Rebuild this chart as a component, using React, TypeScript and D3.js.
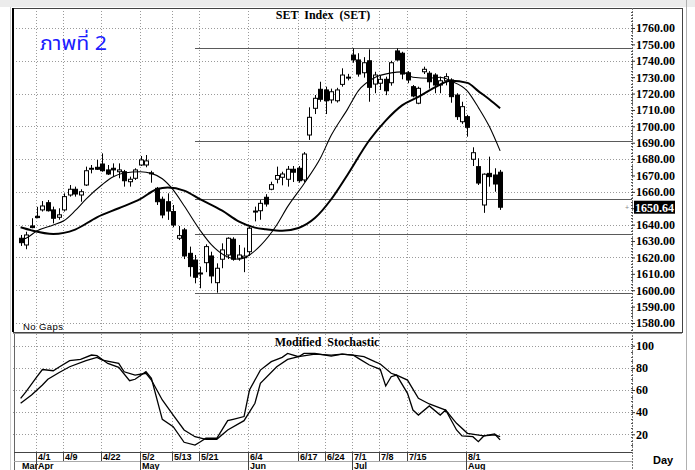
import React, { useRef, useEffect } from "react";
import * as d3 from "d3";

// daily candles, 27 Mar .. 9 Aug (trading days only, no gaps)
const opens = [1631.7, 1627.6, 1639.2, 1645.1, 1649.0, 1653.4, 1649.0, 1644.5, 1649.0, 1658.1,
    1661.6, 1658.1, 1664.2, 1673.8, 1675.0, 1677.0, 1673.4, 1674.4, 1672.3, 1672.3,
    1666.2, 1668.3, 1676.4, 1676.4, 1671.6, 1662.2, 1655.5, 1654.0, 1648.0, 1631.7,
    1636.8, 1622.5, 1618.4, 1610.5, 1616.8, 1620.9, 1604.6, 1618.9, 1621.5, 1631.1,
    1619.5, 1619.8, 1623.5, 1648.3, 1648.5, 1656.7, 1661.6, 1667.7, 1668.9, 1667.7,
    1673.8, 1674.4, 1667.3, 1694.7, 1711.0, 1722.6, 1722.2, 1716.1, 1715.6, 1725.6,
    1729.4, 1743.5, 1740.5, 1732.7, 1740.0, 1725.8, 1726.3, 1728.7, 1726.6, 1746.0,
    1744.6, 1732.7, 1724.2, 1714.1, 1733.3, 1732.4, 1731.3, 1725.2, 1727.8, 1728.3,
    1719.1, 1702.8, 1705.9, 1679.9, 1675.4, 1652.0, 1671.3, 1670.3, 1672.0];
const highs = [1633.7, 1635.7, 1643.9, 1650.9, 1654.4, 1655.0, 1651.0, 1650.0, 1659.1, 1664.2,
    1663.2, 1661.6, 1675.4, 1676.4, 1679.5, 1683.5, 1676.4, 1677.4, 1677.4, 1673.4,
    1669.3, 1674.4, 1681.9, 1682.5, 1672.9, 1663.0, 1657.1, 1659.1, 1652.0, 1639.2,
    1638.0, 1626.6, 1621.5, 1614.4, 1628.0, 1623.5, 1616.4, 1628.6, 1632.3, 1632.3,
    1627.6, 1626.0, 1638.6, 1651.0, 1655.0, 1658.6, 1666.2, 1675.4, 1672.3, 1675.8,
    1675.8, 1675.8, 1684.3, 1711.6, 1719.1, 1727.2, 1724.2, 1723.0, 1723.5, 1735.4,
    1732.0, 1747.6, 1744.6, 1742.2, 1747.0, 1733.3, 1730.7, 1730.3, 1740.0, 1747.6,
    1745.5, 1733.7, 1725.2, 1724.2, 1736.4, 1733.7, 1732.4, 1730.3, 1732.4, 1729.3,
    1720.2, 1715.0, 1707.0, 1687.2, 1680.5, 1671.3, 1681.5, 1674.4, 1673.4];
const lows = [1627.0, 1625.0, 1637.8, 1643.9, 1648.0, 1648.0, 1640.8, 1643.0, 1648.0, 1657.1,
    1657.1, 1654.0, 1663.6, 1671.3, 1673.4, 1672.3, 1670.3, 1669.3, 1668.3, 1663.2,
    1663.2, 1667.3, 1675.8, 1675.0, 1665.6, 1652.0, 1643.9, 1642.9, 1638.4, 1630.6,
    1619.0, 1608.3, 1604.2, 1601.2, 1611.0, 1604.2, 1598.5, 1613.4, 1619.0, 1618.0,
    1618.0, 1611.0, 1621.0, 1642.0, 1643.0, 1651.0, 1661.0, 1665.2, 1664.0, 1663.2,
    1666.0, 1665.6, 1666.0, 1691.7, 1707.5, 1715.0, 1707.5, 1714.0, 1714.5, 1724.2,
    1728.0, 1738.8, 1730.3, 1729.7, 1715.0, 1720.2, 1722.2, 1719.0, 1724.8, 1740.0,
    1728.7, 1726.3, 1717.7, 1713.5, 1731.9, 1723.0, 1720.2, 1720.2, 1725.0, 1714.4,
    1703.9, 1701.5, 1693.7, 1675.8, 1664.2, 1647.2, 1663.2, 1660.1, 1649.0];
const closes = [1629.0, 1633.7, 1638.2, 1644.3, 1651.4, 1648.5, 1643.9, 1646.0, 1657.1, 1661.6,
    1658.7, 1660.1, 1672.9, 1674.4, 1673.8, 1672.9, 1670.9, 1673.4, 1673.4, 1666.8,
    1667.7, 1673.4, 1679.5, 1678.9, 1671.3, 1654.0, 1645.9, 1648.3, 1639.8, 1633.3,
    1620.9, 1614.4, 1607.9, 1610.0, 1626.6, 1608.7, 1613.4, 1624.6, 1631.7, 1618.9,
    1621.5, 1620.8, 1637.8, 1647.8, 1653.0, 1652.6, 1664.4, 1670.0, 1670.9, 1673.8,
    1672.0, 1666.8, 1683.1, 1705.5, 1717.1, 1716.5, 1715.6, 1721.1, 1722.2, 1731.3,
    1730.0, 1740.5, 1731.9, 1738.8, 1723.8, 1731.3, 1728.7, 1721.7, 1738.8, 1740.5,
    1731.9, 1728.3, 1718.5, 1723.2, 1734.8, 1727.2, 1725.2, 1727.8, 1730.3, 1718.1,
    1705.9, 1712.0, 1699.4, 1683.9, 1665.4, 1670.8, 1669.3, 1664.8, 1650.64];

// moving averages: [day index, value]
const maFast = [[0, 1630.7], [1, 1631.7], [3, 1636.2], [6, 1639.8], [8, 1642.5], [10, 1648.5], [12, 1655.6],
    [15, 1664.5], [17, 1669.2], [19, 1671.5], [22, 1672.3], [24, 1671.3], [26, 1668.0], [28, 1661.2],
    [30, 1651.5], [33, 1636.3], [35, 1627.8], [38, 1620.3], [40, 1618.9], [42, 1621.5], [44, 1627.2],
    [47, 1639.8], [49, 1651.0], [52, 1665.0], [55, 1680.5], [57, 1694.5], [60, 1710.5], [62, 1721.8],
    [65, 1729.8], [68, 1732.6], [70, 1733.2], [72, 1729.9], [75, 1729.3], [77, 1729.9], [79, 1727.6],
    [82, 1721.5], [84, 1711.5], [86, 1700.0], [88, 1685.0]];
const maSlow = [[0, 1638.4], [2, 1636.5], [6, 1634.3], [10, 1637.0], [14, 1644.5], [18, 1650.0], [22, 1655.7],
    [25, 1661.6], [27, 1662.6], [30, 1660.8], [33, 1655.4], [37, 1648.5], [40, 1642.0], [43, 1638.2],
    [45, 1637.2], [48, 1636.3], [51, 1638.0], [54, 1644.0], [57, 1655.5], [60, 1670.5], [64, 1691.5],
    [67, 1703.5], [70, 1712.8], [73, 1718.0], [76, 1723.8], [79, 1727.8], [82, 1726.5], [84, 1721.5],
    [86, 1716.5], [88, 1711.0]];

// modified stochastic, two lines
const stochK = [[0, 52.5], [1, 58.5], [3, 72], [4, 78.5], [6, 77.4], [7, 80.5], [9, 86.5], [11, 87.7], [13, 91.6],
    [14, 91], [16, 84], [18, 80.5], [20, 68.4], [21, 69.7], [23, 76.5], [24, 70.6], [26, 33.5], [28, 26.9],
    [30, 12.8], [32, 10.3], [33, 13.3], [34, 16.4], [36, 16.4], [38, 32.3], [39, 33.5], [41, 36], [42, 60],
    [44, 78], [46, 85.6], [48, 89.5], [49, 93.1], [51, 90.1], [52, 93.1], [54, 93.1], [57, 90.7], [59, 92.5],
    [61, 91.6], [62, 88.6], [64, 82.6], [66, 78.7], [67, 63.6], [68, 72], [69, 73.5], [71, 57], [72, 41.9],
    [73, 37.4], [75, 45.6], [77, 37.4], [78, 41.9], [80, 23.9], [81, 18.5], [83, 17.8], [84, 13.3],
    [85, 18.5], [87, 20.3], [88, 14.9]];
const stochD = [[0, 48], [2, 55.5], [4, 64.5], [5, 69.7], [7, 75.6], [9, 81], [12, 86.5], [14, 89.5], [15, 87.1],
    [18, 84.1], [19, 76.5], [21, 73.5], [23, 75.1], [24, 69], [26, 51], [28, 37.4], [30, 23.9], [32, 17.8],
    [34, 15.5], [36, 15.5], [38, 23.9], [41, 32.3], [43, 48], [44, 66], [47, 81], [49, 87.7], [51, 90.1],
    [54, 92.5], [57, 91.6], [59, 92.5], [61, 91.6], [63, 90.1], [65, 85.6], [66, 83.5], [68, 75.1],
    [69, 73.5], [71, 69], [73, 52.5], [75, 47.4], [78, 41.9], [80, 29.9], [82, 20.9], [85, 18.5],
    [87, 19.4], [88, 17.8]];

// support / resistance levels drawn from mid May
const levels = [1747.8, 1691.0, 1655.7, 1634.3, 1598.5];
const levelStart = 32;

const priceTicks = [1580, 1590, 1600, 1610, 1620, 1630, 1640, 1650, 1660, 1670,
    1680, 1690, 1700, 1710, 1720, 1730, 1740, 1750, 1760];
const stochTicks = [20, 40, 60, 80, 100];
const dateIdx = [3, 8, 15, 22, 28, 33, 42, 51, 56, 61, 66, 71, 82];
const dateLabels = ["4/1", "4/9", "4/22", "5/2", "5/13", "5/21", "6/4", "6/17", "6/24", "7/1", "7/8", "7/15", "8/1"];
const monthIdx = [0, 3, 22, 42, 61, 82];
const monthLabels = ["Mar", "Apr", "May", "Jun", "Jul", "Aug"];
const lastClose = 1650.64;

function App() {
    const ref = useRef<SVGSVGElement>(null);

    useEffect(() => {
        draw();
    }, []);

    const draw = () => {
        const svg = d3.select(ref.current);
        svg.selectAll("*").remove();

        const W = 695, H = 470;
        const left = 13, right = 632;
        const mainTop = 8, mainBot = 332;
        const stTop = 334, stBot = 452;
        const serif = "'Liberation Serif', 'Times New Roman', serif";
        const sans = "'Liberation Sans', Arial, sans-serif";

        const x = d3.scaleLinear().domain([-1.4, 112.2]).range([left, right]);
        const y = d3.scaleLinear().domain([1574.5, 1772.2]).range([mainBot, mainTop]);
        const ys = d3.scaleLinear().domain([4, 110.6]).range([stBot, stTop]);
        const px = (i: number) => Math.round(x(i)) + 0.5;

        // background and frame
        svg.append("rect").attr("width", W).attr("height", H).attr("fill", "#fff");
        svg.append("rect").attr("width", W).attr("height", 7).attr("fill", "#ececec");
        svg.append("line").attr("x1", 10.5).attr("x2", 10.5).attr("y1", 7).attr("y2", H)
            .attr("stroke", "#d0d0d0");
        svg.append("line").attr("x1", 686.5).attr("x2", 686.5).attr("y1", 0).attr("y2", H)
            .attr("stroke", "#b0b0b0");

        // dotted grid
        const grid = svg.append("g").attr("stroke", "#9a9a9a").attr("stroke-dasharray", "1,2");
        grid.selectAll(".hg").data(priceTicks.filter(v => v % 20 === 0)).enter().append("line")
            .attr("x1", left).attr("x2", right)
            .attr("y1", d => Math.round(y(d)) + 0.5).attr("y2", d => Math.round(y(d)) + 0.5);
        grid.selectAll(".sg").data(stochTicks).enter().append("line")
            .attr("x1", left).attr("x2", right)
            .attr("y1", d => Math.round(ys(d)) + 0.5).attr("y2", d => Math.round(ys(d)) + 0.5);
        grid.selectAll(".vg").data(dateIdx).enter().append("line")
            .attr("x1", d => px(d) - 1).attr("x2", d => px(d) - 1)
            .attr("y1", mainTop).attr("y2", mainBot);
        grid.selectAll(".vs").data(dateIdx).enter().append("line")
            .attr("x1", d => px(d) - 1).attr("x2", d => px(d) - 1)
            .attr("y1", stTop).attr("y2", stBot);

        // support / resistance
        svg.append("g").selectAll("line").data(levels).enter().append("line")
            .attr("x1", x(levelStart)).attr("x2", right)
            .attr("y1", d => Math.round(y(d)) + 0.5).attr("y2", d => Math.round(y(d)) + 0.5)
            .attr("stroke", "#5a5a5a").attr("stroke-width", 1);

        // candles
        const candles = svg.append("g");
        opens.forEach((o, i) => {
            const c = closes[i];
            const cx = px(i);
            candles.append("line")
                .attr("x1", cx).attr("x2", cx)
                .attr("y1", y(highs[i])).attr("y2", y(lows[i]))
                .attr("stroke", "#000").attr("stroke-width", 1);
            const top = y(Math.max(o, c));
            const h = Math.max(1, y(Math.min(o, c)) - top);
            candles.append("rect")
                .attr("x", cx - 2).attr("y", top)
                .attr("width", 4).attr("height", h)
                .attr("fill", c < o ? "#000" : "#fff")
                .attr("stroke", "#000").attr("stroke-width", 1);
        });

        // moving averages
        const maLine = d3.line<number[]>()
            .x(d => x(d[0])).y(d => y(d[1]))
            .curve(d3.curveMonotoneX);
        svg.append("path").attr("d", maLine(maFast)).attr("fill", "none")
            .attr("stroke", "#000").attr("stroke-width", 1.1);
        svg.append("path").attr("d", maLine(maSlow)).attr("fill", "none")
            .attr("stroke", "#000").attr("stroke-width", 2);

        // stochastic
        const stLine = d3.line<number[]>().x(d => x(d[0])).y(d => ys(d[1]));
        [stochK, stochD].forEach(s => {
            svg.append("path").attr("d", stLine(s)).attr("fill", "none")
                .attr("stroke", "#000").attr("stroke-width", 1.3);
        });

        // panel borders
        svg.append("rect").attr("x", left + 0.5).attr("y", mainTop + 0.5)
            .attr("width", 682 - left).attr("height", mainBot - mainTop)
            .attr("fill", "none").attr("stroke", "#444");
        svg.append("line").attr("x1", left).attr("x2", left).attr("y1", mainTop).attr("y2", mainBot)
            .attr("stroke", "#000").attr("stroke-width", 2);
        svg.append("line").attr("x1", left).attr("x2", 682).attr("y1", 333.5).attr("y2", 333.5)
            .attr("stroke", "#999");
        svg.append("line").attr("x1", 14.5).attr("x2", 14.5).attr("y1", stTop).attr("y2", H)
            .attr("stroke", "#666");
        svg.append("line").attr("x1", 14).attr("x2", right).attr("y1", stBot + 0.5).attr("y2", stBot + 0.5)
            .attr("stroke", "#444");
        svg.append("line").attr("x1", 14).attr("x2", right).attr("y1", 461.5).attr("y2", 461.5)
            .attr("stroke", "#aaa");

        // right axis
        svg.append("line").attr("x1", right + 0.5).attr("x2", right + 0.5)
            .attr("y1", mainTop).attr("y2", H)
            .attr("stroke", "#777").attr("stroke-dasharray", "2,1");
        const minor = svg.append("g").attr("stroke", "#555");
        minor.selectAll(".mt").data(d3.range(1576, 1772, 2)).enter().append("line")
            .attr("x1", right - 1).attr("x2", right + 1)
            .attr("y1", d => Math.round(y(d)) + 0.5).attr("y2", d => Math.round(y(d)) + 0.5);
        minor.selectAll(".ms").data(d3.range(6, 110, 4)).enter().append("line")
            .attr("x1", right - 1).attr("x2", right + 1)
            .attr("y1", d => Math.round(ys(d)) + 0.5).attr("y2", d => Math.round(ys(d)) + 0.5);

        const yAxis = svg.append("g").attr("transform", `translate(${right},0)`)
            .call(d3.axisRight(y).tickValues(priceTicks).tickFormat(d3.format(".2f")).tickSize(3).tickPadding(1));
        yAxis.select(".domain").remove();
        yAxis.selectAll("line").attr("stroke", "#333");
        yAxis.selectAll("text").attr("font-family", serif).attr("font-weight", "bold")
            .attr("font-size", "12px").attr("fill", "#000");

        const sAxis = svg.append("g").attr("transform", `translate(${right},0)`)
            .call(d3.axisRight(ys).tickValues(stochTicks).tickSize(3).tickPadding(1));
        sAxis.select(".domain").remove();
        sAxis.selectAll("line").attr("stroke", "#333");
        sAxis.selectAll("text").attr("font-family", serif).attr("font-weight", "bold")
            .attr("font-size", "12px").attr("fill", "#000");

        // last close marker
        const ly = y(lastClose);
        svg.append("rect").attr("x", right + 2).attr("y", ly - 6.5)
            .attr("width", 41).attr("height", 13).attr("fill", "#000");
        svg.append("text").attr("x", right + 3).attr("y", ly + 4.5)
            .attr("font-family", serif).attr("font-weight", "bold").attr("font-size", "12px")
            .attr("fill", "#fff").text(lastClose.toFixed(2));
        svg.append("text").attr("x", right - 7).attr("y", ly + 3)
            .attr("font-family", sans).attr("font-size", "7px").attr("fill", "#888").text("+");

        // date axis
        const dates = svg.append("g");
        dateIdx.forEach((d, k) => {
            dates.append("line").attr("x1", px(d) - 1).attr("x2", px(d) - 1)
                .attr("y1", stBot).attr("y2", 461).attr("stroke", "#444");
            dates.append("text").attr("x", px(d) + 0.5).attr("y", 459.5)
                .attr("font-family", sans).attr("font-weight", "bold").attr("font-size", "9px")
                .text(dateLabels[k]);
        });
        monthIdx.forEach((d, k) => {
            if (k > 0) {
                dates.append("line").attr("x1", px(d) - 1).attr("x2", px(d) - 1)
                    .attr("y1", 461).attr("y2", H).attr("stroke", "#444");
            }
            dates.append("text").attr("x", px(d) + 0.5).attr("y", 468.5)
                .attr("font-family", sans).attr("font-weight", "bold").attr("font-size", "9px")
                .text(monthLabels[k]);
        });
        svg.append("text").attr("x", 653).attr("y", 464)
            .attr("font-family", sans).attr("font-weight", "bold").attr("font-size", "11px")
            .text("Day");

        // titles
        svg.append("text").attr("x", 323).attr("y", 18.5).attr("text-anchor", "middle")
            .attr("font-family", serif).attr("font-weight", "bold").attr("font-size", "12px")
            .attr("word-spacing", "3px").text("SET Index (SET)");
        svg.append("text").attr("x", 327).attr("y", 346).attr("text-anchor", "middle")
            .attr("font-family", serif).attr("font-weight", "bold").attr("font-size", "12px")
            .attr("word-spacing", "3px").text("Modified Stochastic");
        svg.append("text").attr("x", 23).attr("y", 330)
            .attr("font-family", sans).attr("font-size", "9.5px").attr("letter-spacing", "0.4px")
            .text("No Gaps");
        svg.append("text").attr("x", 40).attr("y", 49.5)
            .attr("font-family", "Tahoma, 'Noto Sans Thai', 'Noto Serif Thai', 'DejaVu Sans', serif")
            .attr("font-size", "20px").attr("fill", "#1c1cff")
            .attr("textLength", 67).attr("lengthAdjust", "spacingAndGlyphs")
            .text("ภาพที่ 2");
    };

    return (
        <svg ref={ref} width={695} height={470}
            style={{ position: "absolute", left: 0, top: 0 }}></svg>
    );
}

export default App;
